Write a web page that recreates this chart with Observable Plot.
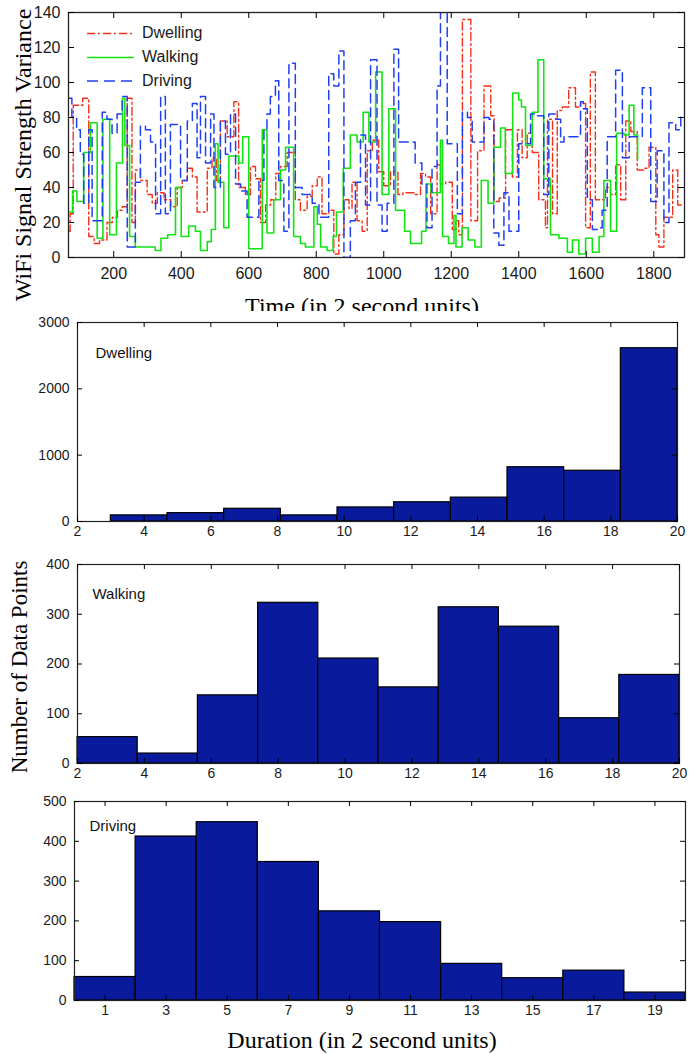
<!DOCTYPE html>
<html><head><meta charset="utf-8">
<script src="https://cdn.jsdelivr.net/npm/d3@7"></script>
<script src="https://cdn.jsdelivr.net/npm/@observablehq/plot@0.6"></script>
<style>
body{margin:0;background:#fff;}
#wrap{position:relative;width:699px;height:1054px;overflow:hidden;background:#fff;}
#wrap svg{position:absolute;left:0;}
</style></head><body><div id="wrap"></div>
<script>
// ---- Top panel: WiFi signal strength variance over time (step series: [time, variance]) ----
const dwelling = [[66,15],[71,25],[80,87],[108,91],[126,12],[142,8],[158,10],[180,20],[196,23],[211,27],[225,29],[240,91],[254,20],[264,50],[279,44],[299,36],[314,31],[329,37],[349,33],[369,29],[388,40],[403,44],[418,51],[433,46],[447,26],[477,51],[491,57],[504,44],[516,78],[536,69],[556,89],[570,40],[590,36],[605,52],[620,45],[635,20],[650,30],[665,33],[680,48],[694,52],[714,60],[738,33],[753,27],[773,35],[788,41],[803,46],[817,25],[837,27],[852,2],[867,13],[882,33],[897,28],[906,43],[921,21],[936,15],[951,61],[966,67],[985,49],[1000,41],[1020,49],[1042,36],[1057,37],[1089,36],[1109,48],[1124,46],[1139,25],[1158,53],[1168,42],[1183,43],[1203,16],[1213,21],[1222,13],[1233,136],[1258,21],[1278,61],[1297,98],[1317,81],[1327,32],[1342,34],[1361,73],[1381,46],[1396,73],[1410,57],[1425,71],[1440,60],[1459,33],[1479,17],[1485,79],[1500,25],[1514,84],[1529,86],[1548,97],[1568,86],[1583,88],[1598,17],[1612,106],[1627,33],[1657,40],[1672,36],[1687,53],[1702,33],[1717,78],[1732,72],[1751,50],[1771,51],[1786,63],[1806,13],[1815,6],[1830,23],[1856,50],[1871,30],[1886,30]];
const walking = [[66,26],[78,38],[91,32],[111,60],[131,77],[151,11],[168,79],[188,13],[208,54],[226,91],[233,64],[247,12],[264,6],[323,4],[340,11],[360,13],[383,40],[400,12],[422,18],[442,15],[457,4],[477,9],[489,16],[501,65],[509,43],[526,17],[541,58],[570,54],[582,69],[600,5],[640,73],[654,14],[674,33],[694,50],[709,63],[733,12],[753,8],[768,6],[793,29],[803,19],[813,6],[832,4],[850,12],[860,26],[880,51],[901,70],[921,66],[939,83],[956,66],[976,106],[995,36],[1015,85],[1035,27],[1062,15],[1079,8],[1112,15],[1125,42],[1140,37],[1168,67],[1174,12],[1192,8],[1208,24],[1214,6],[1232,17],[1250,10],[1270,6],[1289,44],[1309,31],[1326,63],[1346,74],[1360,48],[1382,94],[1400,90],[1408,86],[1420,64],[1440,83],[1457,113],[1474,45],[1494,13],[1519,11],[1544,3],[1559,10],[1578,2],[1598,11],[1618,3],[1638,12],[1652,44],[1672,15],[1690,71],[1712,70],[1727,87],[1741,70],[1752,56]];
const driving = [[66,91],[76,80],[90,73],[101,59],[111,31],[126,73],[136,21],[156,21],[166,83],[180,79],[195,71],[210,82],[225,92],[240,6],[264,43],[279,75],[294,73],[309,66],[324,25],[339,92],[353,25],[368,76],[398,44],[418,78],[433,88],[447,57],[457,92],[472,54],[487,82],[497,40],[516,78],[531,59],[546,82],[561,42],[576,38],[595,23],[630,44],[645,73],[654,82],[664,92],[679,101],[689,44],[704,15],[719,111],[738,40],[758,36],[788,31],[808,23],[837,105],[852,98],[867,118],[882,0],[901,21],[916,43],[931,70],[946,30],[961,113],[980,30],[995,15],[1010,31],[1030,119],[1044,66],[1093,54],[1113,42],[1128,17],[1143,52],[1158,98],[1168,140],[1188,65],[1218,25],[1233,83],[1248,80],[1262,66],[1297,80],[1312,79],[1326,14],[1341,7],[1356,37],[1371,15],[1400,65],[1435,82],[1455,81],[1474,36],[1489,82],[1509,79],[1524,66],[1534,69],[1583,89],[1591,85],[1603,33],[1618,16],[1633,17],[1647,27],[1662,69],[1687,107],[1707,57],[1727,69],[1766,97],[1791,32],[1810,61],[1830,20],[1845,77],[1865,73],[1880,81],[1891,81]];
const timeTicks = [200,400,600,800,1000,1200,1400,1600,1800];
const varTicks = [0,20,40,60,80,100,120,140];
const seriesNames = ["Dwelling","Walking","Driving"];

// ---- Histograms: bin edges and counts ----
const dwellingEdges = [3.0,4.7,6.4,8.1,9.8,11.5,13.2,14.9,16.6,18.3,20.0];
const dwellingCounts = [92,126,192,92,212,290,360,818,765,2612];
const walkingEdges = [2,3.8,5.6,7.4,9.2,11,12.8,14.6,16.4,18.2,20];
const walkingCounts = [53,20,137,323,211,153,314,275,91,178];
const drivingEdges = [0,2,4,6,8,10,12,14,16,18,20];
const drivingCounts = [59,412,448,348,224,197,92,56,75,20];
const dwellingXTicks = [2,4,6,8,10,12,14,16,18,20];
const walkingXTicks = [2,4,6,8,10,12,14,16,18,20];
const drivingXTicks = [1,3,5,7,9,11,13,15,17,19];
const dwellingYTicks = [0,1000,2000,3000];
const walkingYTicks = [0,100,200,300,400];
const drivingYTicks = [0,100,200,300,400,500];

const RED = "#f5301a", GREEN = "#12e412", BLUE = "#1f3ff2", NAVY = "#0a1a9c";
const plain = d => String(d);
const wrap = document.getElementById("wrap");

function place(svg, top) { svg.style.top = top + "px"; wrap.appendChild(svg); }

// inward ticks on all four sides
function boxTicks(xt, yt, innerW, innerH, len) {
  return [
    Plot.tickX(xt, {x: d => d, insetTop: innerH - len, stroke: "black"}),
    Plot.tickX(xt, {x: d => d, insetBottom: innerH - len, stroke: "black"}),
    Plot.tickY(yt, {y: d => d, insetRight: innerW - len, stroke: "black"}),
    Plot.tickY(yt, {y: d => d, insetLeft: innerW - len, stroke: "black"})
  ];
}

// Top panel
{
  const mt = 12, mb = 33, ml = 68, mr = 15, H = 290;
  const iw = 699 - ml - mr, ih = H - mt - mb;
  const svg = Plot.plot({
    width: 699, height: H, marginTop: mt, marginBottom: mb, marginLeft: ml, marginRight: mr,
    x: {domain: [66, 1891], label: null},
    y: {domain: [0, 140], label: null},
    style: {fontFamily: "Liberation Sans, Arial, sans-serif", fontSize: "16px", color: "#1a1a1a", background: "transparent"},
    marks: [
      Plot.line(dwelling, {x: d => d[0], y: d => d[1], curve: "step-after", stroke: RED, strokeWidth: 1.4, strokeDasharray: "8,3,2,3", clip: true}),
      Plot.line(walking, {x: d => d[0], y: d => d[1], curve: "step-after", stroke: GREEN, strokeWidth: 1.6, clip: true}),
      Plot.line(driving, {x: d => d[0], y: d => d[1], curve: "step-after", stroke: BLUE, strokeWidth: 1.5, strokeDasharray: "9,5", clip: true}),
      Plot.frame({stroke: "#222", strokeWidth: 1.3}),
      ...boxTicks(timeTicks, varTicks, iw, ih, 6),
      Plot.axisX({ticks: timeTicks, tickSize: 0, tickPadding: 10, tickFormat: plain}),
      Plot.axisY({ticks: varTicks, tickSize: 0, tickPadding: 8, tickFormat: plain})
    ]
  });
  place(svg, 0);
}

function histPanel(edges, counts, xTicks, yTicks, xDomain, yMax, name, top, ml, mr, dx, dy) {
  const mt = 12, mb = 19, H = 230;
  const iw = 699 - ml - mr, ih = H - mt - mb;
  const bars = counts.map((c, i) => ({x1: edges[i], x2: edges[i + 1], count: c}));
  const svg = Plot.plot({
    width: 699, height: H, marginTop: mt, marginBottom: mb, marginLeft: ml, marginRight: mr,
    x: {domain: xDomain, label: null},
    y: {domain: [0, yMax], label: null},
    style: {fontFamily: "Liberation Sans, Arial, sans-serif", fontSize: "14px", color: "#1a1a1a", background: "transparent"},
    marks: [
      Plot.rectY(bars, {x1: "x1", x2: "x2", y: "count", fill: NAVY, stroke: "black", strokeWidth: 1.2}),
      Plot.frame({stroke: "#222", strokeWidth: 1.2}),
      ...boxTicks(xTicks, yTicks, iw, ih, 5),
      Plot.axisX({ticks: xTicks, tickSize: 0, tickPadding: 5, tickFormat: plain}),
      Plot.axisY({ticks: yTicks, tickSize: 0, tickPadding: 8, tickFormat: plain}),
      Plot.text([name], {text: d => d, frameAnchor: "top-left", textAnchor: "start", dx, dy, fontSize: 15, fill: "#111"})
    ]
  });
  place(svg, top);
}

histPanel(dwellingEdges, dwellingCounts, dwellingXTicks, dwellingYTicks, [2, 20], 3000, "Dwelling", 310, 77, 22, 18, 25);
histPanel(walkingEdges, walkingCounts, walkingXTicks, walkingYTicks, [2, 20], 400, "Walking", 552, 77, 20, 15, 24);
histPanel(drivingEdges, drivingCounts, drivingXTicks, drivingYTicks, [0, 20], 500, "Driving", 789, 74, 14, 15, 19);

// ---- Axis titles and legend (overlay) ----
const NS = "http://www.w3.org/2000/svg";
const ov = document.createElementNS(NS, "svg");
ov.setAttribute("width", 699); ov.setAttribute("height", 1054);
ov.style.top = "0px"; ov.style.pointerEvents = "none";
ov.innerHTML = `
<defs><clipPath id="tclip"><rect x="0" y="280" width="699" height="31"/></clipPath></defs>
<g font-family="Liberation Serif, Times New Roman, serif" font-size="24" fill="#000">
  <text x="362" y="314" text-anchor="middle" clip-path="url(#tclip)">Time (in 2 second units)</text>
  <text transform="translate(31,155) rotate(-90)" text-anchor="middle">WiFi Signal Strength Variance</text>
  <text transform="translate(27,667) rotate(-90)" text-anchor="middle" font-size="23">Number of Data Points</text>
  <text x="362" y="1048" text-anchor="middle">Duration (in 2 second units)</text>
</g>
<g font-family="Liberation Sans, Arial, sans-serif" font-size="16" fill="#1a1a1a">
  <line x1="87" x2="134" y1="33.5" y2="33.5" stroke="${RED}" stroke-width="1.4" stroke-dasharray="8,3,2,3"/>
  <text x="142" y="34" dominant-baseline="middle">${seriesNames[0]}</text>
  <line x1="87" x2="134" y1="57.5" y2="57.5" stroke="${GREEN}" stroke-width="1.6"/>
  <text x="142" y="58" dominant-baseline="middle">${seriesNames[1]}</text>
  <line x1="87" x2="134" y1="81" y2="81" stroke="${BLUE}" stroke-width="1.5" stroke-dasharray="11,6"/>
  <text x="142" y="82" dominant-baseline="middle">${seriesNames[2]}</text>
</g>`;
wrap.appendChild(ov);
</script></body></html>
